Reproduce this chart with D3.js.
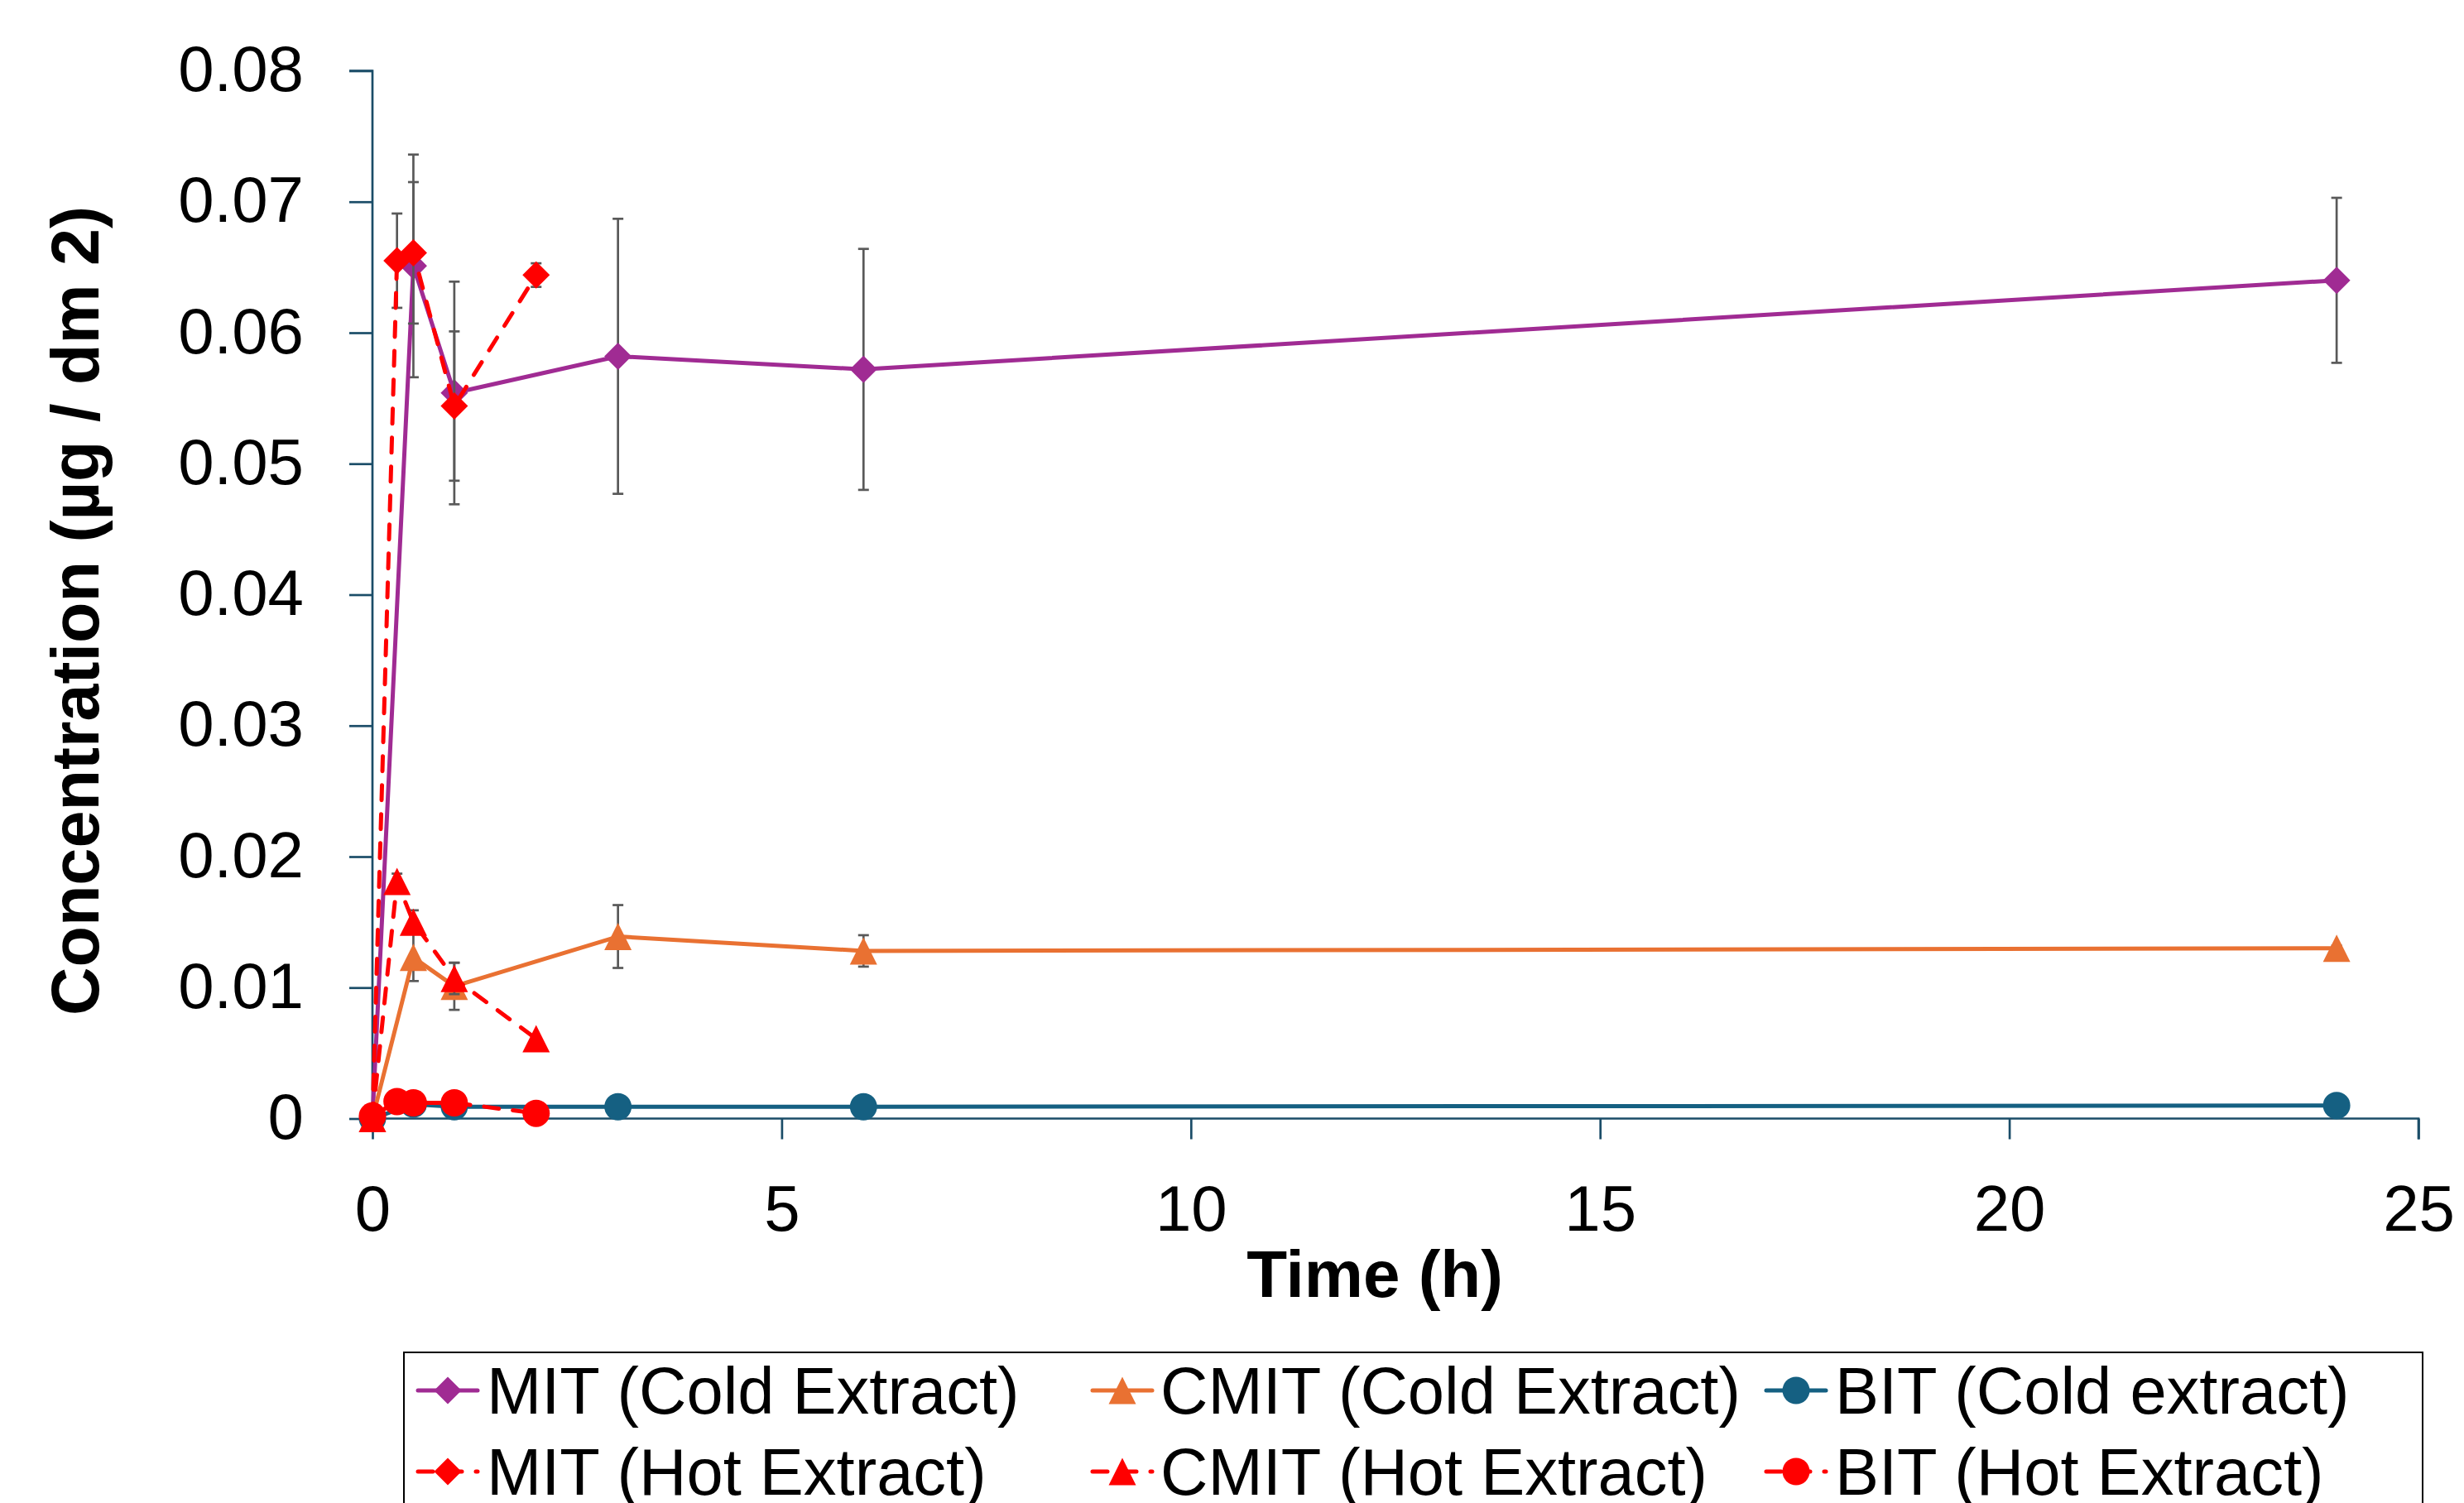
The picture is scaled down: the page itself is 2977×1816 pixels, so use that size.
<!DOCTYPE html>
<html>
<head>
<meta charset="utf-8">
<script src="https://cdn.jsdelivr.net/npm/d3@7"></script>
<style>
  html, body { margin: 0; padding: 0; background: #ffffff; }
  svg { display: block; }
  text { font-family: "Liberation Sans", Arial, sans-serif; fill: #000; }
</style>
</head>
<body>
<script>
// ---------------- DATA ----------------
const timesCold = [0, 0.5, 1, 3, 6, 24];
const timesHot = [0, 0.3, 0.5, 1, 2];

const mitCold = [0, 0.0651, 0.0554, 0.0582, 0.0572, 0.0640];
const mitColdErr = [0, 0.0085, 0.0085, 0.0105, 0.0092, 0.0063];
const cmitCold = [0, 0.0123, 0.0101, 0.0139, 0.0128, 0.0130];
const cmitColdErr = [0, 0.0018, 0.0018, 0.0024, 0.0012, 0.0002];
const bitCold = [0, 0.0011, 0.0009, 0.0009, 0.0009, 0.0010];
const bitColdErr = [0, 0, 0, 0, 0, 0];

const mitHot = [0, 0.0655, 0.0661, 0.0544, 0.0644];
const mitHotErr = [0, 0.0036, 0.0054, 0.0057, 0.0009];
const cmitHot = [0, 0.0181, 0.0150, 0.0107, 0.0061];
const cmitHotErr = [0, 0.0006, 0.0009, 0.0012, 0];
const bitHot = [0.0002, 0.0013, 0.0012, 0.0012, 0.0004];
const bitHotErr = [0, 0, 0, 0, 0];

const seriesNames = ["MIT (Cold Extract)", "CMIT (Cold Extract)", "BIT (Cold extract)",
                     "MIT (Hot Extract)", "CMIT (Hot Extract)", "BIT (Hot Extract)"];
const xTicks = [0, 5, 10, 15, 20, 25];
const yTicks = [0, 0.01, 0.02, 0.03, 0.04, 0.05, 0.06, 0.07, 0.08];
const xTitle = "Time (h)";
const yTitle = "Concentration (µg / dm 2)";

// ---------------- STYLE ----------------
const W = 2977, H = 1816;
const plot = { left: 450, right: 2922, top: 85.5, bottom: 1351.5 };
const axisColor = "#1B4D68";
const errColor = "#595959";
const fontSize = 78;
const legendFont = 79.5;
const titleFont = 80;

const series = [
  { name: seriesNames[0], t: timesCold, v: mitCold, e: mitColdErr, color: "#A02B93", shape: "diamond", dashed: false },
  { name: seriesNames[1], t: timesCold, v: cmitCold, e: cmitColdErr, color: "#E97132", shape: "triangle", dashed: false },
  { name: seriesNames[2], t: timesCold, v: bitCold, e: bitColdErr, color: "#156082", shape: "circle", dashed: false },
  { name: seriesNames[3], t: timesHot, v: mitHot, e: mitHotErr, color: "#FF0000", shape: "diamond", dashed: true },
  { name: seriesNames[4], t: timesHot, v: cmitHot, e: cmitHotErr, color: "#FF0000", shape: "triangle", dashed: true },
  { name: seriesNames[5], t: timesHot, v: bitHot, e: bitHotErr, color: "#FF0000", shape: "circle", dashed: true }
];

function markerPath(shape) {
  const s = 16.5;
  if (shape === "diamond") return `M0,${-s}L${s},0L0,${s}L${-s},0Z`;
  if (shape === "triangle") return `M0,${-s}L${s},${s}L${-s},${s}Z`;
  return d3.symbol(d3.symbolCircle, Math.PI * s * s)();
}

// ---------------- CHART ----------------
const svg = d3.select("body").append("svg")
  .attr("width", W).attr("height", H)
  .attr("viewBox", `0 0 ${W} ${H}`);

svg.append("rect").attr("width", W).attr("height", H).attr("fill", "#fff");

const x = d3.scaleLinear().domain([0, 25]).range([plot.left, plot.right]);
const y = d3.scaleLinear().domain([0, 0.08]).range([plot.bottom, plot.top]);

// Axes
const yAxis = d3.axisLeft(y).tickValues(yTicks).tickSize(28).tickPadding(0)
  .tickFormat(d => d === 0 ? "0" : d3.format(".2f")(d));
const gy = svg.append("g").attr("transform", `translate(${plot.left},0)`).call(yAxis);
gy.select(".domain").attr("stroke", axisColor).attr("stroke-width", 2.7)
  .attr("d", `M-28,${plot.top}H0V${plot.bottom}`);
gy.selectAll(".tick line").attr("stroke", axisColor).attr("stroke-width", 2.7);
gy.selectAll(".tick text")
  .attr("x", -83).attr("dy", "0.31em")
  .attr("font-size", fontSize).attr("font-family", "Liberation Sans, Arial, sans-serif")
  .attr("fill", "#000");

const xAxis = d3.axisBottom(x).tickValues(xTicks).tickSize(25).tickPadding(0).tickFormat(d3.format("d"));
const gx = svg.append("g").attr("transform", `translate(0,${plot.bottom})`).call(xAxis);
gx.select(".domain").attr("stroke", axisColor).attr("stroke-width", 2.7)
  .attr("d", `M${plot.left},0H${plot.right}V25`);
gx.selectAll(".tick line").attr("stroke", axisColor).attr("stroke-width", 2.7);
gx.selectAll(".tick text")
  .attr("y", 135).attr("dy", 0)
  .attr("font-size", fontSize).attr("font-family", "Liberation Sans, Arial, sans-serif")
  .attr("fill", "#000");

// Axis titles
svg.append("text")
  .attr("x", 1661).attr("y", 1567)
  .attr("text-anchor", "middle")
  .attr("font-size", titleFont).attr("font-weight", "bold")
  .text(xTitle);

svg.append("text")
  .attr("transform", `translate(119,738) rotate(-90)`)
  .attr("text-anchor", "middle")
  .attr("font-size", titleFont + 1).attr("font-weight", "bold")
  .text(yTitle);

// Series
const line = d3.line().x(d => x(d.t)).y(d => y(d.v));

series.forEach(s => {
  const pts = s.t.map((t, i) => ({ t, v: s.v[i], e: s.e[i] }));
  const g = svg.append("g");

  // error bars
  const eb = g.append("g");
  pts.filter(p => p.e > 0).forEach(p => {
    const cx = x(p.t), y1 = y(p.v + p.e), y2 = y(p.v - p.e);
    eb.append("line").attr("x1", cx).attr("x2", cx).attr("y1", y1).attr("y2", y2)
      .attr("stroke", errColor).attr("stroke-width", 2.7);
    [y1, y2].forEach(yy => eb.append("line")
      .attr("x1", cx - 6.5).attr("x2", cx + 6.5).attr("y1", yy).attr("y2", yy)
      .attr("stroke", errColor).attr("stroke-width", 2.7));
  });

  g.append("path").datum(pts).attr("d", line)
    .attr("fill", "none").attr("stroke", s.color).attr("stroke-width", 5)
    .attr("stroke-linejoin", "round")
    .attr("stroke-linecap", "round")
    .attr("stroke-dasharray", s.dashed ? "18 17" : null);

  g.selectAll("path.m").data(pts).enter().append("path").attr("class", "m")
    .attr("d", markerPath(s.shape))
    .attr("transform", d => `translate(${x(d.t)},${y(d.v)})`)
    .attr("fill", s.color);
});

// Legend
const legend = svg.append("g");
legend.append("rect")
  .attr("x", 488).attr("y", 1634).attr("width", 2927 - 488).attr("height", 240)
  .attr("fill", "none").attr("stroke", "#000").attr("stroke-width", 2);

const colX = [505, 1320, 2134];
const textX = [588, 1402, 2217];
const rowY = [1680, 1778];
series.forEach((s, i) => {
  const col = i % 3, row = Math.floor(i / 3);
  const lx = colX[col], ly = rowY[row];
  const g = legend.append("g");
  g.append("line").attr("x1", lx).attr("x2", lx + 72).attr("y1", ly).attr("y2", ly)
    .attr("stroke", s.color).attr("stroke-width", 5)
    .attr("stroke-linecap", "round")
    .attr("stroke-dasharray", s.dashed ? "18 17" : null);
  g.append("path").attr("d", markerPath(s.shape))
    .attr("transform", `translate(${lx + 36},${ly})`)
    .attr("fill", s.color);
  g.append("text").attr("x", textX[col]).attr("y", ly + 28)
    .attr("font-size", legendFont)
    .text(s.name);
});
</script>
</body>
</html>
